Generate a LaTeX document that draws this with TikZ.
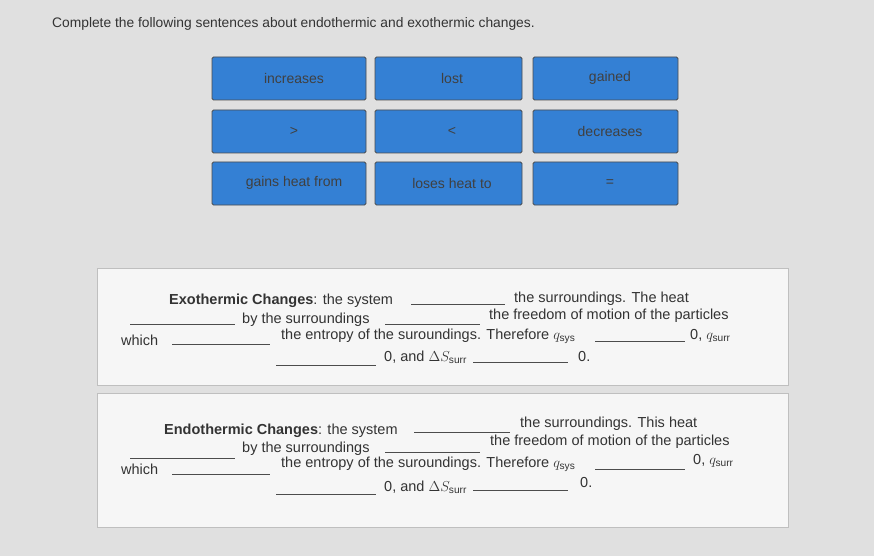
\documentclass[tikz,border=0pt]{standalone}
\usepackage{fontspec}
\setmainfont{Liberation Sans}
\begin{document}
\begin{tikzpicture}[x=1pt,y=-1pt,
  btn/.style={draw=black!70,line width=0.8pt,rounded corners=1.5pt},
  blab/.style={font=\fontsize{14}{16}\selectfont,text=black!75},
  txt/.style={anchor=base west,inner sep=0pt,font=\fontsize{14.5}{16}\selectfont,text=black!80},
  blank/.style={draw=black!70,line width=0.6pt},
  panel/.style={draw=black!25,fill=white!93!gray,line width=0.8pt}]
\useasboundingbox (0,0) rectangle (874,556);
\fill[black!12] (0,0) rectangle (874,556);
\node[txt,font=\fontsize{13.8}{15}\selectfont] (title) at (52,28) {Complete the following sentences about endothermic and exothermic changes.};
% buttons
\foreach \y/\a/\b/\c [count=\r] in {57/increases/lost/gained,110/>/</decreases,162/gains heat from/loses heat to/=}{
  \draw[btn,fill={rgb,255:red,52;green,128;blue,212}] (212,\y) rectangle (366,\y+43);
  \draw[btn,fill={rgb,255:red,52;green,128;blue,212}] (375,\y) rectangle (522,\y+43);
  \draw[btn,fill={rgb,255:red,52;green,128;blue,212}] (533,\y) rectangle (678,\y+43);
  \node[blab] (b\r a) at (294,\y+21) {\a};
  \node[blab] (b\r b) at (452,\y+21) {\b};
  \node[blab] (b\r c) at (610,\y+21) {\c};
}
% panels
\draw[panel] (97,268) rectangle (788,385);
\draw[panel] (97,393) rectangle (788,527);
% box 1
\node[txt] (e1) at (169,304) {\textbf{Exothermic Changes}: the system};
\draw[blank] (411,304) -- (505,304);
\node[txt] (e2) at (514,302) {the surroundings. The heat};
\draw[blank] (130,324) -- (235,324);
\node[txt] (e3) at (242,323) {by the surroundings};
\draw[blank] (385,324) -- (480,324);
\node[txt] (e4) at (489,319) {the freedom of motion of the particles};
\node[txt] (e5) at (121,345) {which};
\draw[blank] (172,344) -- (270,344);
\node[txt] (e6) at (281,339) {the entropy of the suroundings. Therefore $q_{\mathrm{sys}}$};
\draw[blank] (595,341) -- (685,341);
\node[txt] (e7) at (690,339) {0, $q_{\mathrm{surr}}$};
\draw[blank] (276,365) -- (376,365);
\node[txt] (e8) at (384,361) {0, and $\Delta S_{\mathrm{surr}}$};
\draw[blank] (473,362) -- (568,362);
\node[txt] (e9) at (578,361) {0.};
% box 2
\node[txt] (n1) at (164,434) {\textbf{Endothermic Changes}: the system};
\draw[blank] (414,432) -- (510,432);
\node[txt] (n2) at (520,427) {the surroundings. This heat};
\draw[blank] (130,458) -- (235,458);
\node[txt] (n3) at (242,452) {by the surroundings};
\draw[blank] (385,452) -- (480,452);
\node[txt] (n4) at (490,445) {the freedom of motion of the particles};
\node[txt] (n5) at (121,474) {which};
\draw[blank] (172,474) -- (270,474);
\node[txt] (n6) at (281,467) {the entropy of the suroundings. Therefore $q_{\mathrm{sys}}$};
\draw[blank] (595,469) -- (685,469);
\node[txt] (n7) at (693,464) {0, $q_{\mathrm{surr}}$};
\draw[blank] (276,494) -- (376,494);
\node[txt] (n8) at (384,491) {0, and $\Delta S_{\mathrm{surr}}$};
\draw[blank] (473,490) -- (568,490);
\node[txt] (n9) at (580,487) {0.};
\end{tikzpicture}
\end{document}
